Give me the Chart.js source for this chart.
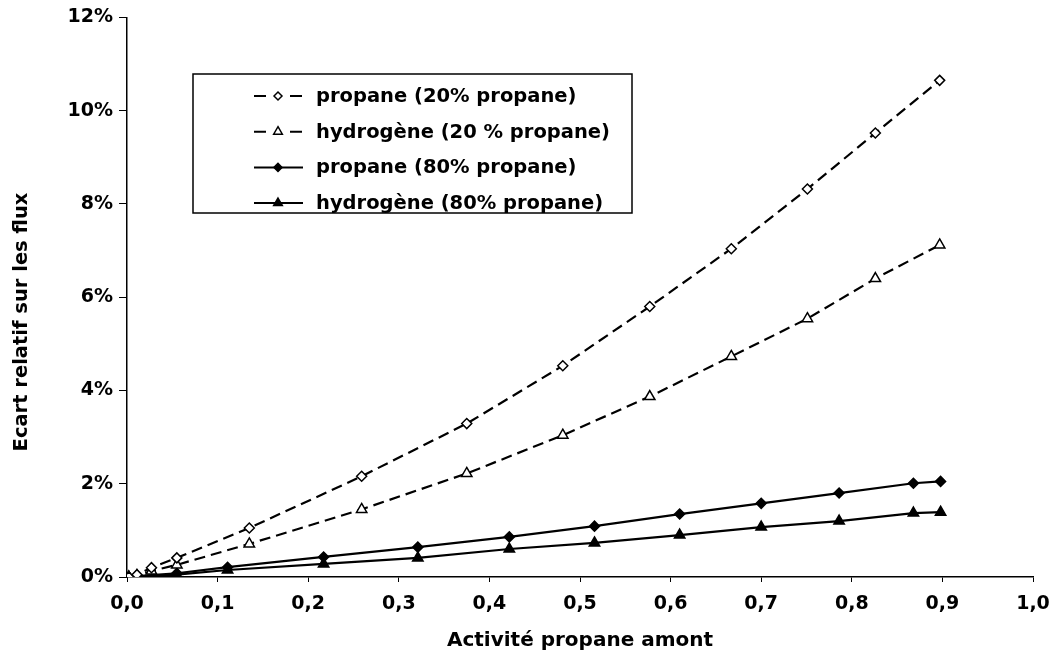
<!DOCTYPE html>
<html>
<head>
<meta charset="utf-8">
<script src="https://cdn.jsdelivr.net/npm/chart.js@4.4.0/dist/chart.umd.min.js"></script>
<style>
  body { margin: 0; background: #fff; }
</style>
</head>
<body>
<canvas id="chart" width="1055" height="659"></canvas>
<script>
// data (y in %)
const xProp20 = [0.002, 0.011, 0.027, 0.055, 0.135, 0.259, 0.375, 0.481, 0.577, 0.667, 0.751, 0.826, 0.897];
const propane20 = [0.0, 0.05, 0.20, 0.41, 1.05, 2.16, 3.29, 4.53, 5.80, 7.04, 8.32, 9.52, 10.65];
const hydrogene20 = [0.0, 0.03, 0.13, 0.26, 0.71, 1.45, 2.22, 3.04, 3.87, 4.73, 5.54, 6.40, 7.12];

const xProp80 = [0.002, 0.011, 0.055, 0.111, 0.217, 0.321, 0.422, 0.516, 0.610, 0.700, 0.786, 0.868, 0.898];
const propane80 = [0.0, 0.02, 0.08, 0.21, 0.43, 0.64, 0.86, 1.09, 1.35, 1.58, 1.80, 2.01, 2.05];
const hydrogene80 = [0.0, 0.01, 0.05, 0.15, 0.28, 0.41, 0.60, 0.73, 0.90, 1.07, 1.20, 1.37, 1.39];

const seriesNames = ['propane (20% propane)', 'hydrogène (20 % propane)', 'propane (80% propane)', 'hydrogène (80% propane)'];
const yTitle = 'Ecart relatif sur les flux';

const FONT = "'DejaVu Sans', sans-serif";

function pts(xs, ys){
    return xs.map((x, i) => ({x: x, y: ys[i]}));
}

function series(label, data, style, dashed, filled){
    return {
        label: label,
        data: data,
        showLine: true,
        borderColor: '#000',
        borderWidth: 2.2,
        borderDash: dashed ? [11, 6] : [],
        pointStyle: style,
        pointRadius: style === 'triangle' ? 6 : 5,
        pointBackgroundColor: filled ? '#000' : '#fff',
        pointBorderColor: '#000',
        pointBorderWidth: 1.5
    };
}

// legend box drawn inside the plot like the original, plus the y title
const boxLegend = {
    id: 'boxLegend',
    afterDraw(chart){
        const ctx = chart.ctx;
        const left = 193, top = 74, w = 439, h = 139;
        ctx.save();
        ctx.fillStyle = '#fff';
        ctx.fillRect(left, top, w, h);
        ctx.strokeStyle = '#000';
        ctx.lineWidth = 1.5;
        ctx.strokeRect(left, top, w, h);
        chart.data.datasets.forEach((ds, i) => {
            const y = 96 + i * 35.7;
            ctx.lineWidth = 2;
            ctx.beginPath();
            if (ds.borderDash.length) {
                ctx.moveTo(254, y); ctx.lineTo(266, y);
                ctx.moveTo(290, y); ctx.lineTo(302, y);
            } else {
                ctx.moveTo(254, y); ctx.lineTo(303, y);
            }
            ctx.stroke();
            ctx.lineWidth = 1.5;
            ctx.fillStyle = ds.pointBackgroundColor;
            Chart.helpers.drawPoint(ctx, {pointStyle: ds.pointStyle, radius: ds.pointRadius - 1, borderWidth: 1.5}, 278, y);
            ctx.fillStyle = '#000';
            ctx.font = "bold 19.5px " + FONT;
            ctx.textBaseline = 'middle';
            ctx.textAlign = 'left';
            ctx.fillText(ds.label, 316, y + 1);
        });

        ctx.translate(22, 322);
        ctx.rotate(-Math.PI / 2);
        ctx.font = "bold 19.5px " + FONT;
        ctx.textAlign = 'center';
        ctx.textBaseline = 'middle';
        ctx.fillText(yTitle, 0, 0);
        ctx.restore();
    }
};

new Chart(document.getElementById('chart'), {
    type: 'scatter',
    data: {
        datasets: [
            series(seriesNames[0], pts(xProp20, propane20), 'rectRot', true, false),
            series(seriesNames[1], pts(xProp20, hydrogene20), 'triangle', true, false),
            series(seriesNames[2], pts(xProp80, propane80), 'rectRot', false, true),
            series(seriesNames[3], pts(xProp80, hydrogene80), 'triangle', false, true)
        ]
    },
    options: {
        responsive: false,
        animation: false,
        layout: { padding: { top: 16, right: 22, left: 0, bottom: 0 } },
        plugins: {
            legend: { display: false },
            tooltip: { enabled: false }
        },
        scales: {
            x: {
                type: 'linear',
                min: 0, max: 1,
                afterFit(scale){
                    scale.height = 82;
                    scale.paddingRight = 0;
                    scale.paddingLeft = 0;
                },
                ticks: {
                    stepSize: 0.1,
                    color: '#000',
                    padding: 11,
                    font: { family: FONT, size: 19, weight: 'bold' },
                    callback: v => v.toFixed(1).replace('.', ',')
                },
                grid: { drawOnChartArea: false, drawTicks: true, tickLength: 5, color: '#000' },
                border: { display: true, color: '#000', width: 1.5 },
                title: {
                    display: true,
                    text: 'Activité propane amont',
                    color: '#000',
                    padding: { top: 8, bottom: 6 },
                    font: { family: FONT, size: 20, weight: 'bold' }
                }
            },
            y: {
                min: 0, max: 12,
                afterFit(scale){ scale.width = 127; },
                ticks: {
                    stepSize: 2,
                    color: '#000',
                    padding: 6,
                    font: { family: FONT, size: 19, weight: 'bold' },
                    callback: v => v + '%'
                },
                grid: { drawOnChartArea: false, drawTicks: true, tickLength: 8, color: '#000' },
                border: { display: true, color: '#000', width: 1.5 }
            }
        }
    },
    plugins: [boxLegend]
});
</script>
</body>
</html>
